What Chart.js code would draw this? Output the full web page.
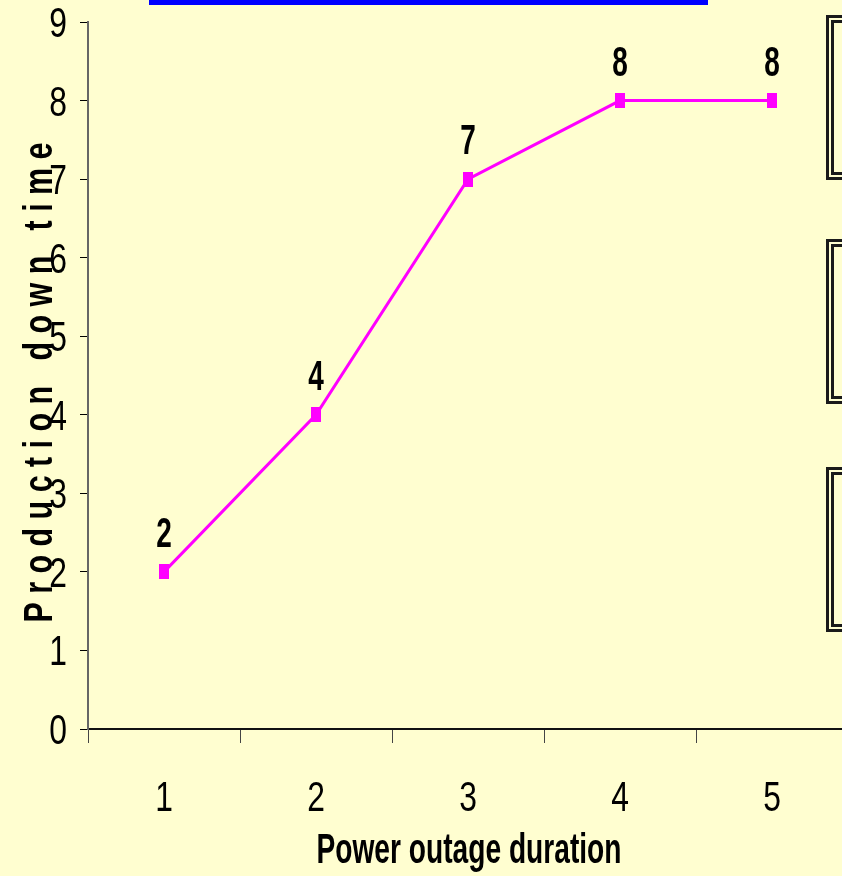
<!DOCTYPE html>
<html>
<head>
<meta charset="utf-8">
<script src="https://cdn.jsdelivr.net/npm/chart.js@4.4.0/dist/chart.umd.min.js"></script>
<style>
  html, body { margin: 0; padding: 0; background: #FFFED0; overflow: hidden; }
  #wrap { position: relative; width: 842px; height: 876px; overflow: hidden; }
  #wrap canvas { position: absolute; left: 0; top: 0; }
  .bar { position: absolute; left: 149px; top: 0; width: 559px; height: 5px; background: #0000FF; }
  .box { position: absolute; left: 826px; width: 40px; border: 8px double #1a1a1a; box-sizing: border-box; }
</style>
</head>
<body>
<div id="wrap">
  <canvas id="grafico" width="870" height="876" style="width:870px;height:876px"></canvas>
  <div class="bar"></div>
  <div class="box" style="top:15px;height:165px"></div>
  <div class="box" style="top:239px;height:165px"></div>
  <div class="box" style="top:467px;height:165px"></div>
</div>
<script>
const duracoes = ["1", "2", "3", "4", "5"];
const tempoParado = [2, 4, 7, 8, 8];
const ticksY = [0, 1, 2, 3, 4, 5, 6, 7, 8, 9];
const tituloX = "Power outage duration";
const tituloY = "P r o d u c t i o n   d o w n   t i m e";

const fonte = "'Liberation Sans', Arial, sans-serif";

// marcador retangular (mais alto que largo, como no original)
const marcador = document.createElement("canvas");
marcador.width = 10;
marcador.height = 15;
const mctx = marcador.getContext("2d");
mctx.fillStyle = "#FF00FF";
mctx.fillRect(0, 0, 10, 15);

// texto estreito (tipo Arial Narrow esticado), comprimido na horizontal
function textoEstreito(ctx, txt, x, y, opts) {
  ctx.save();
  ctx.font = (opts.peso || "normal") + " " + opts.tam + "px " + fonte;
  ctx.fillStyle = "#000";
  ctx.textAlign = opts.alinha || "center";
  ctx.textBaseline = "alphabetic";
  let sx = opts.escala || 1;
  if (opts.largura) sx = opts.largura / ctx.measureText(txt).width;
  ctx.translate(x, y);
  if (opts.angulo) ctx.rotate(opts.angulo);
  ctx.scale(sx, 1);
  ctx.fillText(txt, 0, 0);
  ctx.restore();
}

// rotulos de valor, rotulos dos eixos e titulos
const rotulos = {
  id: "rotulos",
  afterDatasetsDraw(chart) {
    const meta = chart.getDatasetMeta(0);
    meta.data.forEach((pt, i) => {
      textoEstreito(chart.ctx, String(tempoParado[i]), pt.x, pt.y - 25, { tam: 43, escala: 0.65, peso: "bold" });
    });
  },
  afterDraw(chart) {
    const c = chart.ctx;
    const sx = chart.scales.x;
    const sy = chart.scales.y;
    ticksY.forEach((v) => {
      textoEstreito(c, String(v), sy.right - 21, sy.getPixelForValue(v) + 15, { tam: 43, escala: 0.74, alinha: "right" });
    });
    duracoes.forEach((d, i) => {
      textoEstreito(c, d, sx.getPixelForValue(i), 811, { tam: 43, escala: 0.74 });
    });
    const area = chart.chartArea;
    textoEstreito(c, tituloX, 469, 863, { tam: 42, peso: "bold", largura: 305 });
    textoEstreito(c, tituloY, 52, (area.top + area.bottom) / 2 + 7, { tam: 40, peso: "bold", largura: 480, angulo: -Math.PI / 2 });
  }
};

const ctx = document.getElementById("grafico").getContext("2d");
new Chart(ctx, {
  type: "line",
  data: {
    labels: duracoes,
    datasets: [{
      data: tempoParado,
      borderColor: "#FF00FF",
      backgroundColor: "#FF00FF",
      borderWidth: 3,
      pointStyle: marcador,
      pointRadius: 7,
      pointHoverRadius: 7,
      tension: 0,
    }]
  },
  options: {
    responsive: false,
    animation: false,
    events: [],
    layout: { padding: { top: 22, right: 22, left: 0, bottom: 0 } },
    plugins: {
      legend: { display: false },
      tooltip: { enabled: false },
    },
    scales: {
      x: {
        offset: true,
        afterFit: (s) => { s.height = 147; },
        grid: {
          drawOnChartArea: false,
          drawTicks: true,
          tickLength: 14,
          offset: true,
          color: "#444",
        },
        border: { color: "#111", width: 2 },
        ticks: { display: false },
      },
      y: {
        min: 0,
        max: 9,
        afterFit: (s) => { s.width = 88; },
        grid: {
          drawOnChartArea: false,
          drawTicks: true,
          tickLength: 8,
          color: "#000",
        },
        border: { color: "#666", width: 2 },
        ticks: { display: false, stepSize: 1 },
      },
    },
  },
  plugins: [rotulos],
});
</script>
</body>
</html>
